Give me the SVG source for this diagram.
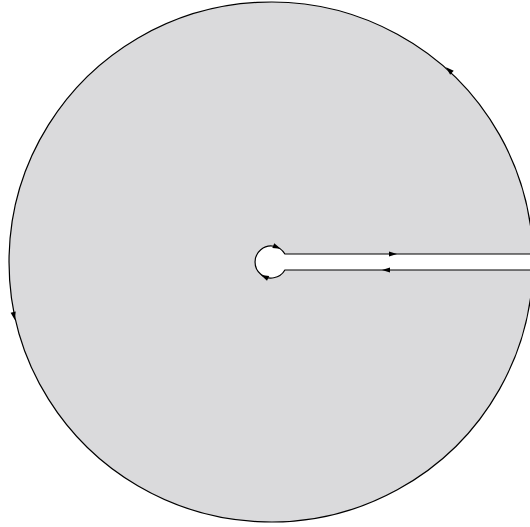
<svg xmlns="http://www.w3.org/2000/svg" width="530" height="527" viewBox="0 0 530 527">
  <defs>
    <style>
      .contour { fill: #dadadc; stroke: #000; stroke-width: 1.2; }
      .ah { fill: #000; }
    </style>
    <path id="ah" d="M4,0 L-4,-2.6 L-4,2.6 Z"/>
  </defs>
  <rect width="530" height="527" fill="#fff"/>
  <g id="keyhole">
    <path class="contour" d="M 532.9 254 A 262 260 0 1 0 532.9 270 L 284.9 270 A 16 16 0 1 1 284.9 254 Z"/>
  </g>
  <g id="arrows">
    <use href="#ah" class="ah" transform="translate(449,70) rotate(-137)"/>
    <use href="#ah" class="ah" transform="translate(14,316) rotate(78)"/>
    <use href="#ah" class="ah" transform="translate(393,254) rotate(0)"/>
    <use href="#ah" class="ah" transform="translate(386,270) rotate(180)"/>
    <use href="#ah" class="ah" transform="translate(277,247.2) rotate(22)"/>
    <use href="#ah" class="ah" transform="translate(264.5,276.6) rotate(-155)"/>
  </g>
</svg>
